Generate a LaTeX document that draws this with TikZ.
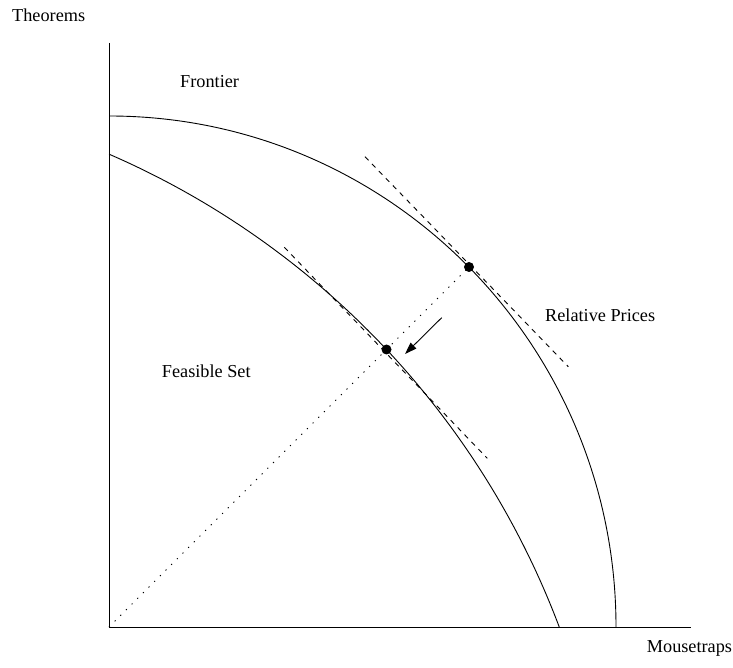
\documentclass[tikz,border=0pt]{standalone}
\usepackage{fontspec}
\setmainfont{Liberation Serif}
\usetikzlibrary{arrows.meta}
\tikzset{
  lbl/.style={anchor=base west, inner sep=0pt, font=\fontsize{18.25}{22}\selectfont},
  curve/.style={line width=0.9pt},
  tangent/.style={line width=0.9pt, dash pattern=on 5pt off 5pt},
  ray/.style={line width=1pt, dash pattern=on 1.2pt off 6.8pt},
  dotnode/.style={circle, fill=black, inner sep=0pt, minimum size=10pt},
}
\begin{document}
\begin{tikzpicture}[x=1pt,y=1pt]
\useasboundingbox (0,0) rectangle (733,667);
% axes
\coordinate (O) at (109,40);
\coordinate (ytop) at (109,624);
\coordinate (xend) at (691,40);
\draw[line width=0.9pt] (ytop) -- (O) -- (xend);
% frontier (outer)
\draw[curve] (109,551) arc[start angle=90, end angle=0, x radius=507, y radius=511];
% feasible set boundary (inner)
\draw[curve] ([shift={(-224,-255)}]66.55:837) arc[start angle=66.55, end angle=20.6, radius=837];
% tangents
\coordinate (t1a) at (365,510.3);
\coordinate (t1b) at (568.3,300.3);
\coordinate (t2a) at (284.3,419.7);
\coordinate (t2b) at (487.3,208.7);
\draw[tangent] (t1a) -- (t1b);
\draw[tangent] (t2a) -- (t2b);
% points
\node[dotnode] (P) at (469,400) {};
\node[dotnode] (Q) at (386.5,317.5) {};
\draw[ray] (O) -- (P.center);
% arrow
\coordinate (a1) at (441.7,349.3);
\coordinate (a2) at (405,313);
\draw[line width=0.9pt, -{Triangle[length=12pt,width=8pt]}] (a1) -- (a2);
% labels
\node[lbl] (theorems) at (12,645) {Theorems};
\node[lbl] (frontier) at (180,579) {Frontier};
\node[lbl] (prices) at (545,345.3) {Relative Prices};
\node[lbl] (feasible) at (161.7,289.3) {Feasible Set};
\node[lbl] (mouse) at (646.7,14.3) {Mousetraps};
\end{tikzpicture}
\end{document}
